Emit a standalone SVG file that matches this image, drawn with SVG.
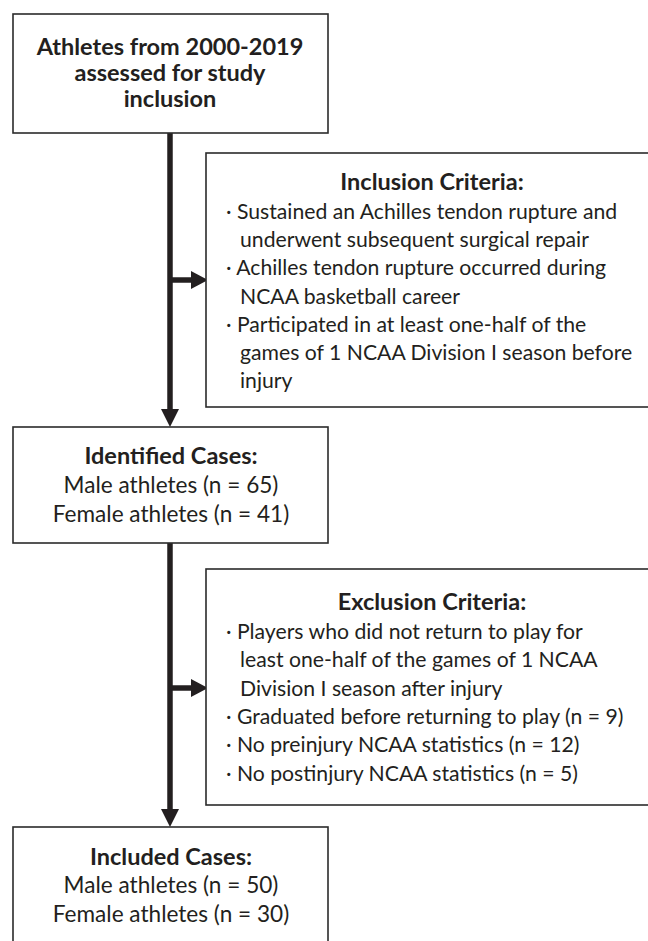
<svg xmlns="http://www.w3.org/2000/svg" width="648" height="941" viewBox="0 0 648 941">
<style>
.box{fill:#fff;stroke:#2b2b2b;stroke-width:1.6}
.t{font-family:Lato,"Liberation Sans",sans-serif;font-size:21.2px;fill:#231f20}
.m{font-size:22.6px}
.b{font-weight:bold;font-size:23.5px}
.c{text-anchor:middle}
.ln{stroke:#231f20;stroke-width:5.5;fill:none}
.hd{fill:#231f20}
</style>
<rect width="648" height="941" fill="#fff"/>
<g id="connectors">
<line class="ln" x1="170" y1="133" x2="170" y2="412"/>
<polygon class="hd" points="161,409 179,409 170,427"/>
<line class="ln" x1="170" y1="280" x2="194" y2="280"/>
<polygon class="hd" points="191,271 191,289 208,280"/>
<line class="ln" x1="170" y1="543" x2="170" y2="812"/>
<polygon class="hd" points="161,809 179,809 170,827"/>
<line class="ln" x1="170" y1="688" x2="194" y2="688"/>
<polygon class="hd" points="191,679 191,697 208,688"/>
</g>
<g id="start">
<rect class="box" x="13" y="14" width="315" height="119"/>
<text class="t b c" x="170" y="55">Athletes from 2000-2019</text>
<text class="t b c" x="170" y="81">assessed for study</text>
<text class="t b c" x="170" y="107">inclusion</text>
</g>
<g id="inclusion">
<rect class="box" x="206" y="153" width="450" height="254"/>
<text class="t b c" x="432" y="190">Inclusion Criteria:</text>
<text class="t" x="226" y="219">· Sustained an Achilles tendon rupture and</text>
<text class="t" x="240" y="247">underwent subsequent surgical repair</text>
<text class="t" x="226" y="275">· Achilles tendon rupture occurred during</text>
<text class="t" x="240" y="304">NCAA basketball career</text>
<text class="t" x="226" y="332">· Participated in at least one-half of the</text>
<text class="t" x="240" y="360">games of 1 NCAA Division I season before</text>
<text class="t" x="240" y="388">injury</text>
</g>
<g id="identified">
<rect class="box" x="13" y="427" width="315" height="116"/>
<text class="t b c" x="171" y="464">Identified Cases:</text>
<text class="t m c" x="171" y="493">Male athletes (n = 65)</text>
<text class="t m c" x="171" y="522">Female athletes (n = 41)</text>
</g>
<g id="exclusion">
<rect class="box" x="206" y="569" width="450" height="236"/>
<text class="t b c" x="432" y="610">Exclusion Criteria:</text>
<text class="t" x="226" y="639">· Players who did not return to play for</text>
<text class="t" x="240" y="667">least one-half of the games of 1 NCAA</text>
<text class="t" x="240" y="696">Division I season after injury</text>
<text class="t" x="226" y="724">· Graduated before returning to play (n = 9)</text>
<text class="t" x="226" y="752">· No preinjury NCAA statistics (n = 12)</text>
<text class="t" x="226" y="781">· No postinjury NCAA statistics (n = 5)</text>
</g>
<g id="included">
<rect class="box" x="13" y="827" width="315" height="130"/>
<text class="t b c" x="171" y="865">Included Cases:</text>
<text class="t m c" x="171" y="893">Male athletes (n = 50)</text>
<text class="t m c" x="171" y="922">Female athletes (n = 30)</text>
</g>
</svg>
